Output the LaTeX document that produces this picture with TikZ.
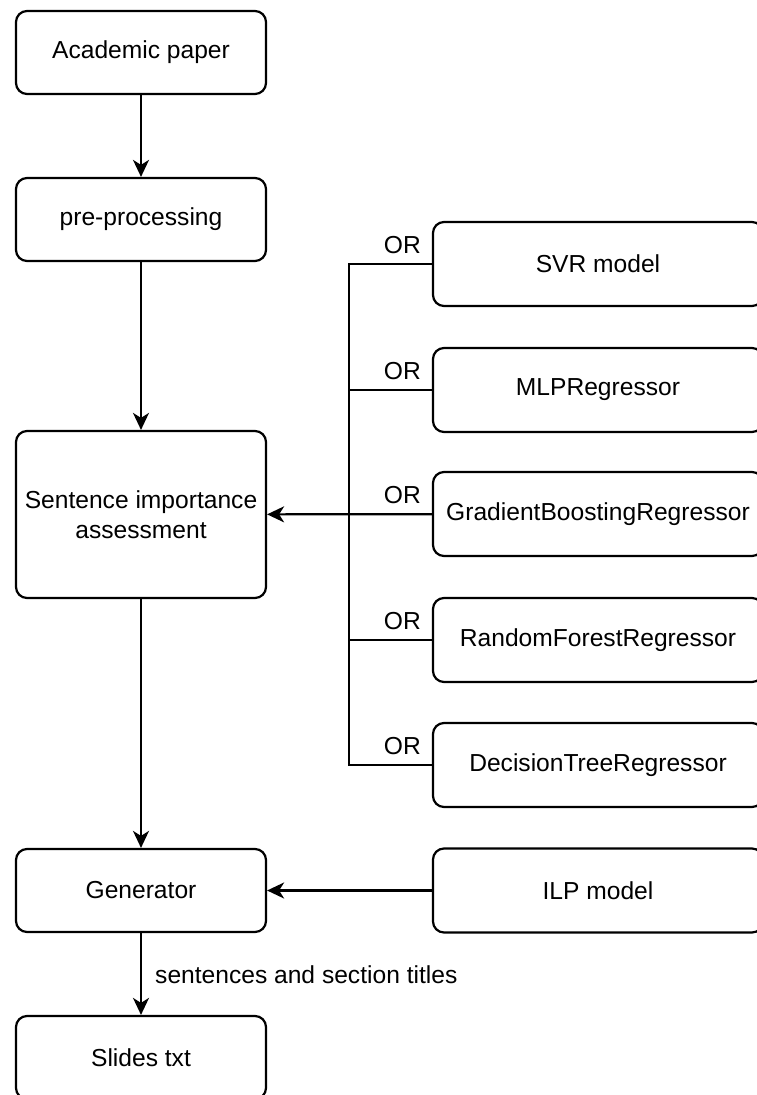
\documentclass[tikz,border=0pt]{standalone}
\usepackage{fontspec}
\setmainfont{Liberation Sans}
\usetikzlibrary{arrows.meta}
\begin{document}
\begin{tikzpicture}[x=1pt,y=-1pt,
  box/.style={draw, line width=2.2pt, rounded corners=11pt, inner sep=0pt,
    align=center, font=\fontsize{24.6}{29.5}\selectfont},
  leftbox/.style={box, minimum width=250pt, minimum height=83pt},
  rightbox/.style={box, minimum width=330pt, minimum height=84pt},
  wire/.style={line width=2.2pt},
  link/.style={wire, -{Stealth[length=17pt,width=16pt,inset=5pt]}},
  orlabel/.style={anchor=east, inner sep=0pt, font=\fontsize{24.6}{29.5}\selectfont},
  edgelabel/.style={anchor=west, inner sep=0pt, font=\fontsize{24.6}{29.5}\selectfont}]
\useasboundingbox (0,0) rectangle (757,1095);
\clip (0,0) rectangle (757,1095);

% main pipeline
\node[leftbox] (ap)  at (141,52.5)  {Academic paper};
\node[leftbox] (pp)  at (141,219.5) {pre-processing};
\node[leftbox, minimum height=167pt] (sia) at (141,514.5) {Sentence importance\\assessment};
\node[leftbox] (gen) at (141,890.5) {Generator};
\node[leftbox] (st)  at (141,1057.5) {Slides txt};

% alternative regressors and the ILP model
\node[rightbox] (svr) at (598,264) {SVR model};
\node[rightbox] (mlp) at (598,390) {MLPRegressor};
\node[rightbox] (gbr) at (598,514) {GradientBoostingRegressor};
\node[rightbox] (rfr) at (598,640) {RandomForestRegressor};
\node[rightbox] (dtr) at (598,765) {DecisionTreeRegressor};
\node[rightbox] (ilp) at (598,890.5) {ILP model};

% pipeline arrows
\draw[link] (ap) -- (pp);
\draw[link] (pp) -- (sia);
\draw[link] (sia) -- (gen);
\draw[link] (gen) -- (st);
\node[edgelabel] (lbl) at (155,975) {sentences and section titles};

% OR bus joining the regressors
\coordinate (trunk) at (349,0);
\draw[wire] (svr.west) -- (svr.west -| trunk) -- (dtr.west -| trunk) -- (dtr.west);
\draw[wire] (mlp.west) -- (mlp.west -| trunk);
\draw[wire] (rfr.west) -- (rfr.west -| trunk);
\draw[link] (gbr) -- (sia);
\draw[link] (ilp) -- (gen);

\node[orlabel] (or1) at (421,245) {OR};
\node[orlabel] (or2) at (421,371) {OR};
\node[orlabel] (or3) at (421,495) {OR};
\node[orlabel] (or4) at (421,621) {OR};
\node[orlabel] (or5) at (421,746) {OR};
\end{tikzpicture}
\end{document}
